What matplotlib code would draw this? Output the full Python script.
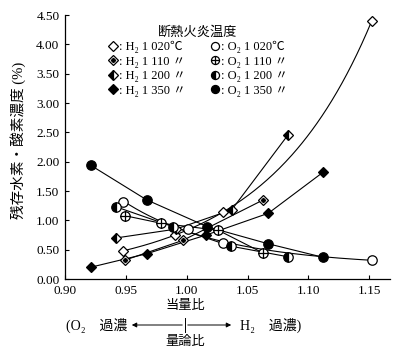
import matplotlib
matplotlib.use('Agg')
import matplotlib.pyplot as plt
import numpy as np
from matplotlib.path import Path
from matplotlib.lines import Line2D
from matplotlib.patches import FancyArrowPatch

plt.rcParams['font.family'] = ['Liberation Serif', 'Noto Sans CJK JP', 'DejaVu Sans']

# ---- data ----
h2_1020_x = [0.948, 0.990, 1.030, 1.152]
h2_1020_y = [0.48, 0.75, 1.14, 4.40]
h2_1110_x = [0.949, 0.997, 1.063]
h2_1110_y = [0.32, 0.66, 1.35]
h2_1200_x = [0.942, 0.991, 1.037, 1.083]
h2_1200_y = [0.70, 0.85, 1.18, 2.45]
h2_1350_x = [0.921, 0.967, 1.016, 1.067, 1.112]
h2_1350_y = [0.20, 0.43, 0.75, 1.12, 1.82]

o2_1020_x = [0.948, 1.001, 1.030, 1.152]
o2_1020_y = [1.31, 0.85, 0.61, 0.32]
o2_1110_x = [0.949, 0.979, 1.026, 1.063]
o2_1110_y = [1.08, 0.95, 0.83, 0.44]
o2_1200_x = [0.942, 0.989, 1.036, 1.083]
o2_1200_y = [1.23, 0.89, 0.56, 0.38]
o2_1350_x = [0.921, 0.967, 1.017, 1.067, 1.112]
o2_1350_y = [1.94, 1.35, 0.89, 0.60, 0.37]

x_ticks = [0.90, 0.95, 1.00, 1.05, 1.10, 1.15]
y_ticks = [0.0, 0.5, 1.0, 1.5, 2.0, 2.5, 3.0, 3.5, 4.0, 4.5]

legend_title = '断熱火炎温度'
labels = [': H₂ 1 020℃', ': H₂ 1 110 〃', ': H₂ 1 200 〃', ': H₂ 1 350 〃',
          ': O₂ 1 020℃', ': O₂ 1 110 〃', ': O₂ 1 200 〃', ': O₂ 1 350 〃']

# ---- figure ----
W, H = 400, 354
fig = plt.figure(figsize=(W / 100, H / 100), dpi=100)
ax = fig.add_axes([65 / W, 1 - 279 / H, (390 - 65) / W, (279 - 15) / H])
ax.set_xlim(0.90, 1.167)
ax.set_ylim(0, 4.5)
for s in ['top', 'right']:
    ax.spines[s].set_visible(False)
for s in ['left', 'bottom']:
    ax.spines[s].set_linewidth(0.9)
ax.set_xticks(x_ticks)
ax.set_xticklabels(['%.2f' % v for v in x_ticks])
ax.set_yticks(y_ticks)
ax.set_yticklabels(['%.2f' % v for v in y_ticks])
ax.tick_params(direction='in', length=3, width=0.8, labelsize=9.5, pad=4)

lw = 0.8
ms_c = 6.8
ms_d = 5.2

circle = Path.unit_circle()
cross = Path([(-1, 0), (1, 0), (0, -1), (0, 1)],
             [Path.MOVETO, Path.LINETO, Path.MOVETO, Path.LINETO])
crossed_circle = Path.make_compound_path(circle, cross)


def smooth(x, y):
    c = np.polyfit(x, np.log(y), 2)
    xs = np.linspace(min(x), max(x), 200)
    return xs, np.exp(np.polyval(c, xs))


# lines
xs, ys = smooth(h2_1020_x, h2_1020_y)
ax.plot(xs, ys, color='k', lw=lw, zorder=2)
xs, ys = smooth(o2_1020_x, o2_1020_y)
ax.plot(xs, ys, color='k', lw=lw, zorder=2)
for x, y in [(h2_1110_x, h2_1110_y), (h2_1200_x, h2_1200_y), (h2_1350_x, h2_1350_y),
             (o2_1110_x, o2_1110_y), (o2_1200_x, o2_1200_y), (o2_1350_x, o2_1350_y)]:
    ax.plot(x, y, color='k', lw=lw, zorder=2)

# markers
kw = dict(ls='none', mec='k', mew=0.9, zorder=3)
ax.plot(h2_1020_x, h2_1020_y, marker='D', ms=ms_d, mfc='white', **kw)
ax.plot(h2_1110_x, h2_1110_y, marker='D', ms=ms_d, mfc='white', **kw)
ax.plot(h2_1110_x, h2_1110_y, marker='D', ms=2.2, mfc='k', ls='none', mec='k', zorder=4)
ax.plot(h2_1200_x, h2_1200_y, marker='D', ms=ms_d, mfc='k', mfcalt='white', fillstyle='left', **kw)
ax.plot(h2_1350_x, h2_1350_y, marker='D', ms=ms_d, mfc='k', **kw)
ax.plot(o2_1020_x, o2_1020_y, marker='o', ms=ms_c, mfc='white', **kw)
ax.plot(o2_1110_x, o2_1110_y, marker=crossed_circle, ms=ms_c, mfc='white', **kw)
ax.plot(o2_1200_x, o2_1200_y, marker='o', ms=ms_c, mfc='k', mfcalt='white', fillstyle='left', **kw)
ax.plot(o2_1350_x, o2_1350_y, marker='o', ms=ms_c, mfc='k', **kw)

# legend
lk = dict(ls='none', mec='k', mew=0.9)
handles = [
    Line2D([], [], marker='D', ms=ms_d, mfc='white', **lk),
    (Line2D([], [], marker='D', ms=ms_d, mfc='white', **lk),
     Line2D([], [], marker='D', ms=2.2, mfc='k', ls='none', mec='k')),
    Line2D([], [], marker='D', ms=ms_d, mfc='k', mfcalt='white', fillstyle='left', **lk),
    Line2D([], [], marker='D', ms=ms_d, mfc='k', **lk),
    Line2D([], [], marker='o', ms=ms_c - 1, mfc='white', **lk),
    Line2D([], [], marker=crossed_circle, ms=ms_c - 1, mfc='white', **lk),
    Line2D([], [], marker='o', ms=ms_c - 1, mfc='k', mfcalt='white', fillstyle='left', **lk),
    Line2D([], [], marker='o', ms=ms_c - 1, mfc='k', **lk),
]
leg = ax.legend(handles, labels, ncol=2, title=legend_title, frameon=False,
                loc='upper left', bbox_to_anchor=(108 / W, 1 - 26 / H),
                bbox_transform=fig.transFigure, fontsize=9, title_fontsize=9.5,
                handlelength=0.8, handletextpad=0.1, columnspacing=1.9,
                labelspacing=0.2, borderaxespad=0, borderpad=0)

# axis labels
fig.text(18 / W, 1 - 140 / H, '残存水素・酸素濃度 (%)', rotation=90,
         ha='center', va='center', fontsize=10.5)
fig.text(185 / W, 1 - 306 / H, '当量比', ha='center', va='center', fontsize=9.5)
fig.text(66 / W, 1 - 325 / H, '(O₂　過濃', ha='left', va='center', fontsize=10)
fig.text(240 / W, 1 - 325 / H, 'H₂　過濃)', ha='left', va='center', fontsize=10)
fig.text(185 / W, 1 - 342 / H, '量論比', ha='center', va='center', fontsize=9.5)

y_ar = 1 - 325 / H
fig.add_artist(FancyArrowPatch((185 / W, y_ar), (129 / W, y_ar), transform=fig.transFigure,
                               arrowstyle='-|>', mutation_scale=7, lw=0.7, color='k'))
fig.add_artist(FancyArrowPatch((185 / W, y_ar), (234 / W, y_ar), transform=fig.transFigure,
                               arrowstyle='-|>', mutation_scale=7, lw=0.7, color='k'))
fig.add_artist(Line2D([185 / W, 185 / W], [y_ar - 7 / H, y_ar + 7 / H],
                      transform=fig.transFigure, color='k', lw=0.7))

fig.savefig('out.png', dpi=100)
